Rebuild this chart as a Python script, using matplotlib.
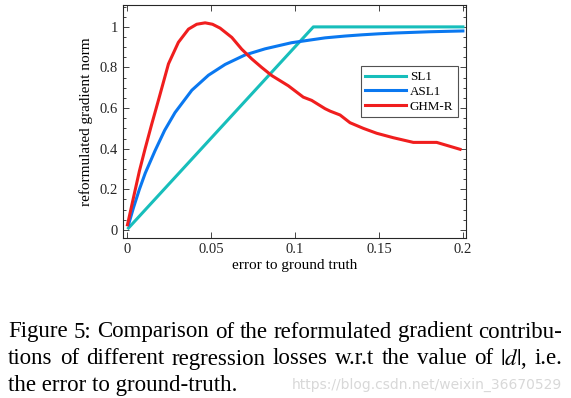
import numpy as np
import matplotlib
matplotlib.use('Agg')
import matplotlib.pyplot as plt
from matplotlib.ticker import MultipleLocator

plt.rcParams['font.family'] = 'Liberation Serif'
plt.rcParams['mathtext.fontset'] = 'stix'

## data
sl1_x = [0.001, 0.111, 0.2]
sl1_y = [0.009, 1.0, 1.0]

asl1_x = [0.001, 0.004, 0.0075, 0.011, 0.0168, 0.0225, 0.0287, 0.0387, 0.0486, 0.0585,
          0.0704, 0.0823, 0.098, 0.118, 0.13, 0.14, 0.15, 0.16, 0.17, 0.18, 0.19, 0.2]
asl1_y = [0.025, 0.11, 0.20, 0.28, 0.39, 0.49, 0.578, 0.688, 0.762, 0.815,
          0.862, 0.892, 0.922, 0.946, 0.955, 0.961, 0.966, 0.970, 0.973, 0.976, 0.978, 0.980]

ghm_x = [0.0004, 0.004, 0.0075, 0.0109, 0.0148, 0.0188, 0.0248, 0.0307, 0.0367, 0.0416,
         0.0466, 0.051, 0.0555, 0.0625, 0.0684, 0.0744, 0.0803, 0.0863, 0.0961, 0.105,
         0.110, 0.118, 0.121, 0.1269, 0.1328, 0.1408, 0.1487, 0.1586, 0.1705, 0.1844, 0.1983]
ghm_y = [0.025, 0.16, 0.29, 0.40, 0.52, 0.638, 0.818, 0.924, 0.989, 1.013,
         1.020, 1.013, 0.994, 0.948, 0.89, 0.842, 0.80, 0.76, 0.71, 0.654,
         0.638, 0.597, 0.585, 0.566, 0.528, 0.500, 0.476, 0.454, 0.431, 0.431, 0.397]

xticks = [0, 0.05, 0.1, 0.15, 0.2]
xticklabels = ['0', '0.05', '0.1', '0.15', '0.2']
yticks = [0, 0.2, 0.4, 0.6, 0.8, 1.0]
yticklabels = ['0', '0.2', '0.4', '0.6', '0.8', '1']

caption = ["Figure 5: Comparison of the reformulated gradient contribu-",
           "tions of different regression losses w.r.t the value of $|d|$, i.e.",
           "the error to ground-truth."]

fig = plt.figure(figsize=(5.71, 3.98), dpi=100)
ax = fig.add_axes([0.215, 0.402, 0.601, 0.585])

ax.plot(sl1_x, sl1_y, color='#17BEBB', lw=2.2, label='SL1')
ax.plot(asl1_x, asl1_y, color='#0A78F0', lw=2.2, label='ASL1')
ax.plot(ghm_x, ghm_y, color='#F01E1E', lw=2.2, label='GHM-R')

ax.set_xlim(-0.0024, 0.2018)
ax.set_ylim(-0.04, 1.107)
ax.set_xticks(xticks)
ax.set_xticklabels(xticklabels)
ax.set_yticks(yticks)
ax.set_yticklabels(yticklabels)
ax.yaxis.set_minor_locator(MultipleLocator(0.05))
ax.tick_params(which='both', direction='in', top=True, right=True, labelsize=10.5, colors='#262626')
ax.tick_params(which='major', length=4, width=0.6)
ax.tick_params(which='minor', length=2.5, width=0.6)
for s in ax.spines.values():
    s.set_color('#262626')
    s.set_linewidth(0.8)

ax.set_xlabel('error to ground truth', fontsize=11, labelpad=2)
ax.set_ylabel('reformulated gradient norm', fontsize=11, labelpad=5)

leg = ax.legend(loc='upper left', bbox_to_anchor=(0.694, 0.737), fontsize=9.4,
                frameon=True, fancybox=False, handlelength=3.1, borderpad=0.35,
                labelspacing=0.2, handletextpad=0.3, borderaxespad=0)
leg.get_frame().set_edgecolor('#262626')
leg.get_frame().set_linewidth(0.8)

## caption, justified by hand
renderer = fig.canvas.get_renderer()
left, right = 8 / 571, 562 / 571
ys = [1 - 332 / 398, 1 - 359 / 398, 1 - 385 / 398]

probe = fig.text(0, 0, caption[0], fontsize=12)
natural = probe.get_window_extent(renderer).width / fig.bbox.width
probe.remove()
fs = 12 * (right - left) / natural

for i, line in enumerate(caption):
    if i == len(caption) - 1:
        fig.text(left, ys[i], line, fontsize=fs, va='center', ha='left')
        continue
    words = line.split(' ')
    texts = [fig.text(0, ys[i], w, fontsize=fs, va='center', ha='left') for w in words]
    widths = [t.get_window_extent(renderer).width / fig.bbox.width for t in texts]
    gap = (right - left - sum(widths)) / (len(words) - 1)
    x = left
    for t, w in zip(texts, widths):
        t.set_x(x)
        x += w + gap

fig.text(562 / 571, 1 - 385 / 398, 'https://blog.csdn.net/weixin_36670529', fontsize=10,
         family='DejaVu Sans', color='#d8d8d8', va='center', ha='right')

fig.savefig('out.png', dpi=100)
